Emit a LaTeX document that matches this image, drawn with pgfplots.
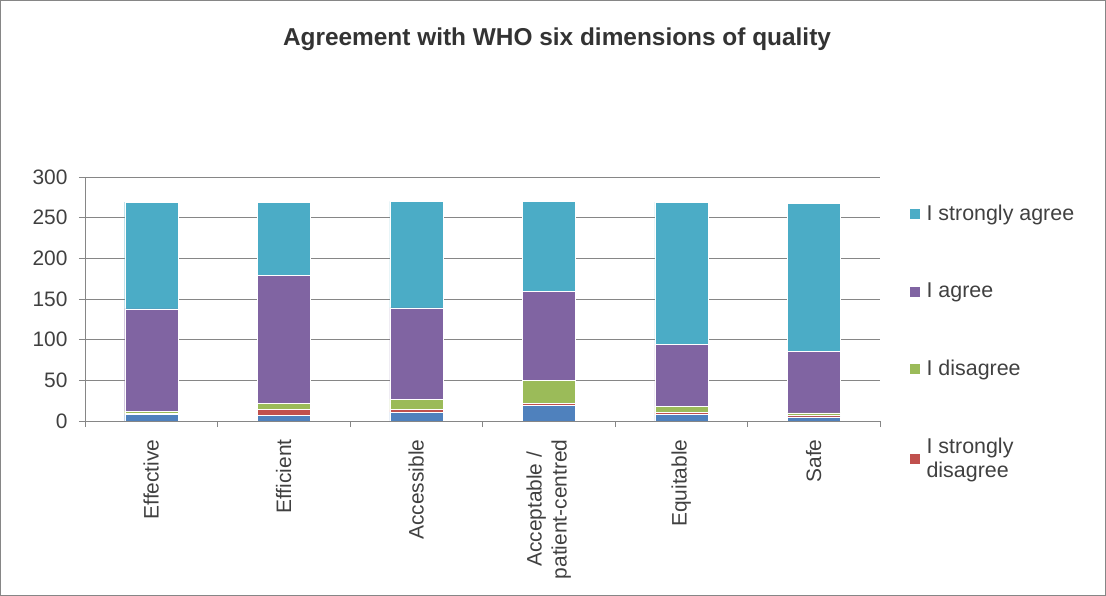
\documentclass[border=0pt]{standalone}
\usepackage{pgfplots}
\pgfplotsset{compat=1.18}
\usepackage{pgfplotstable}
\usepackage{fontspec}
\setmainfont{Liberation Sans}

\definecolor{sagreeC}{HTML}{4BACC6}
\definecolor{agreeC}{HTML}{8064A2}
\definecolor{disagreeC}{HTML}{9BBB59}
\definecolor{sdisagreeC}{HTML}{C0504D}
\definecolor{otherC}{HTML}{4F81BD}
\definecolor{txtC}{HTML}{404040}
\definecolor{lineC}{HTML}{868686}

% responses per dimension (bottom to top of each stack)
\pgfplotstableread{
x other sdis dis agree sagree
0 8  1 3  126 131
1 7  7 8  157 90
2 11 3 13 112 131
3 19 3 28 109 111
4 8  3 7  76  175
5 5  2 3  76  182
}\quality

\begin{document}
\begin{tikzpicture}
\useasboundingbox (0,0) rectangle (1106bp,596bp);
\draw[lineC, line width=0.8bp] (0.5bp,0.5bp) rectangle (1105.5bp,595.5bp);
\node[font=\fontsize{24.5}{28}\selectfont\bfseries, text=black!80] at (557bp,557bp)
  {Agreement with WHO six dimensions of quality};
\begin{axis}[
  at={(85bp,175bp)}, anchor=south west,
  scale only axis, width=795bp, height=244bp,
  ybar stacked, bar width=53bp,
  xmin=-0.5, xmax=5.5, ymin=0, ymax=300,
  axis x line*=bottom, axis y line*=left,
  axis line style={lineC, line width=0.8bp},
  ytick={0,50,...,300},
  ymajorgrids, grid style={lineC, line width=0.8bp},
  xtick={0,...,5},
  xticklabels={Effective, Efficient, Accessible, {Acceptable /\\patient-centred}, Equitable, Safe},
  minor xtick={-0.5,0.5,...,5.5},
  major x tick style={draw=none},
  minor x tick style={lineC, line width=0.8bp},
  y tick style={lineC, line width=0.8bp},
  major tick length=6bp, minor tick length=6bp,
  tick align=outside,
  /pgf/number format/assume math mode=true,
  yticklabel style={font=\fontsize{21}{25}\selectfont, text=txtC, xshift=-8bp},
  xticklabel style={font=\fontsize{21}{25}\selectfont, text=txtC,
    rotate=90, anchor=east, align=center, xshift=-9bp, yshift=0bp},
  legend style={at={(1,1)}, anchor=north west, xshift=26bp, yshift=-24bp,
    draw=none, fill=none, font=\fontsize{21.5}{23.5}\selectfont, text=txtC,
    row sep=57bp, cells={anchor=west, align=left}},
  legend image code/.code={\fill[#1] (0bp,-5.5bp) rectangle (11bp,5.5bp);},
  reverse legend,
  every axis plot/.append style={draw=white, line width=0.4bp},
]
\addplot[fill=otherC, forget plot] table[x=x, y=other] {\quality};
\addplot[fill=sdisagreeC] table[x=x, y=sdis] {\quality};
\addplot[fill=disagreeC] table[x=x, y=dis] {\quality};
\addplot[fill=agreeC] table[x=x, y=agree] {\quality};
\addplot[fill=sagreeC] table[x=x, y=sagree] {\quality};
\legend{\hspace{4bp}I strongly\\\hspace{4bp}disagree, \hspace{4bp}I disagree, \hspace{4bp}I agree, \hspace{4bp}I strongly agree}
\end{axis}
\end{tikzpicture}
\end{document}
